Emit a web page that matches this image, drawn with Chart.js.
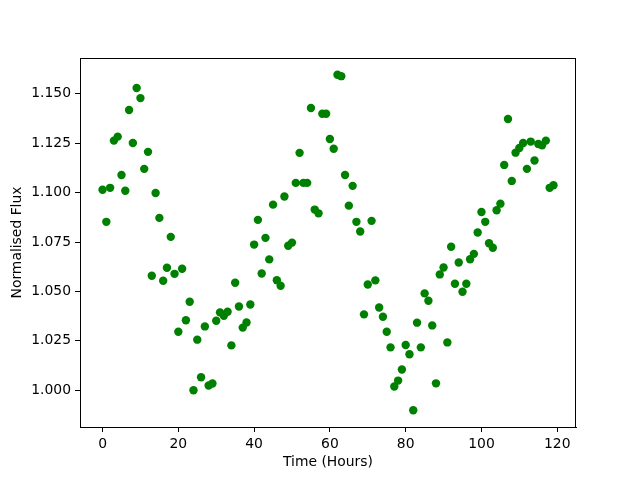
<!DOCTYPE html>
<html>
<head>
<meta charset="utf-8">
<script src="https://cdn.jsdelivr.net/npm/chart.js@4/dist/chart.umd.min.js"></script>
<style>
  body { margin: 0; background: #fff; }
  #myChart { display: block; }
</style>
</head>
<body>
<canvas id="myChart" width="640" height="480"></canvas>
<script>
// Light curve values
const hours = [
  0, 1, 2, 3, 4, 5, 6, 7, 8, 9, 10, 11, 12, 13, 14, 15, 16, 17, 18, 19,
  20, 21, 22, 23, 24, 25, 26, 27, 28, 29, 30, 31, 32, 33, 34, 35, 36, 37, 38, 39,
  40, 41, 42, 43, 44, 45, 46, 47, 48, 49, 50, 51, 52, 53, 54, 55, 56, 57, 58, 59,
  60, 61, 62, 63, 64, 65, 66, 67, 68, 69, 70, 71, 72, 73, 74, 75, 76, 77, 78, 79,
  80, 81, 82, 83, 84, 85, 86, 87, 88, 89, 90, 91, 92, 93, 94, 95, 96, 97, 98, 99,
  100, 101, 102, 103, 104, 105, 106, 107, 108, 109, 110, 111, 112, 113, 114, 115, 116, 117, 118, 119
];
const flux = [
  1.1014, 1.0852, 1.1024, 1.1263, 1.1283, 1.1089, 1.1009, 1.1418, 1.1251, 1.1529,
  1.1478, 1.1120, 1.1206, 1.0579, 1.0998, 1.0872, 1.0554, 1.0620, 1.0776, 1.0589,
  1.0296, 1.0615, 1.0354, 1.0448, 1.0000, 1.0256, 1.0066, 1.0323, 1.0024, 1.0034,
  1.0352, 1.0394, 1.0377, 1.0397, 1.0227, 1.0544, 1.0424, 1.0317, 1.0343, 1.0434,
  1.0737, 1.0862, 1.0591, 1.0771, 1.0662, 1.0939, 1.0557, 1.0529, 1.0980, 1.0731,
  1.0747, 1.1049, 1.1201, 1.1049, 1.1049, 1.1428, 1.0914, 1.0895, 1.1399, 1.1399,
  1.1271, 1.1222, 1.1596, 1.1589, 1.1089, 1.0934, 1.1034, 1.0852, 1.0803, 1.0384,
  1.0535, 1.0857, 1.0556, 1.0419, 1.0372, 1.0296, 1.0217, 1.0019, 1.0049, 1.0105,
  1.0229, 1.0182, 0.9899, 1.0342, 1.0217, 1.0490, 1.0453, 1.0328, 1.0035, 1.0586,
  1.0621, 1.0242, 1.0726, 1.0539, 1.0646, 1.0498, 1.0539, 1.0663, 1.0690, 1.0798,
  1.0902, 1.0852, 1.0744, 1.0721, 1.0911, 1.0944, 1.1140, 1.1372, 1.1059, 1.1202,
  1.1226, 1.1251, 1.1120, 1.1258, 1.1162, 1.1246, 1.1239, 1.1263, 1.1024, 1.1037
];
const xTicks = [0, 20, 40, 60, 80, 100, 120];
const yTicks = [1.000, 1.025, 1.050, 1.075, 1.100, 1.125, 1.150];

// matplotlib style 5% margins around the data
function paddedRange(values) {
  const lo = Math.min(...values);
  const hi = Math.max(...values);
  const pad = (hi - lo) * 0.05;
  return [lo - pad, hi + pad];
}
const [xMin, xMax] = paddedRange(hours);
const [yMin, yMax] = paddedRange(flux);

const points = hours.map((h, i) => ({ x: h, y: flux[i] }));

Chart.defaults.color = '#000';
Chart.defaults.font.family = '"DejaVu Sans", sans-serif';

// draws the full box around the plot area, like matplotlib spines
const frame = {
  id: 'frame',
  afterDraw(chart) {
    const { ctx, chartArea: a } = chart;
    ctx.save();
    ctx.strokeStyle = '#000';
    ctx.lineWidth = 1;
    ctx.strokeRect(a.left + 0.5, a.top + 0.5, a.right - a.left - 1, a.bottom - a.top);
    ctx.restore();
  }
};

const tickFont = { size: 13.9 };
const titleFont = { size: 13.9 };

new Chart(document.getElementById('myChart').getContext('2d'), {
  type: 'scatter',
  data: {
    datasets: [
      {
        data: points,
        backgroundColor: '#008000',
        borderColor: '#008000',
        pointRadius: 4.2,
        pointBorderWidth: 0,
        pointHoverRadius: 4.2,
      },
    ],
  },
  options: {
    responsive: false,
    animation: false,
    devicePixelRatio: 1,
    layout: {
      padding: { left: 0, right: 64, top: 58, bottom: 0 },
    },
    plugins: {
      legend: { display: false },
      tooltip: { enabled: false },
    },
    scales: {
      x: {
        type: 'linear',
        min: xMin,
        max: xMax,
        afterBuildTicks: (axis) => { axis.ticks = xTicks.map(v => ({ value: v })); },
        afterFit: (axis) => { axis.height = 53; },
        grid: {
          drawOnChartArea: false,
          drawTicks: true,
          tickLength: 5,
          tickColor: '#000',
        },
        border: { display: true, color: '#000', width: 1 },
        ticks: { font: tickFont, padding: 4, maxRotation: 0 },
        title: {
          display: true,
          text: 'Time (Hours)',
          font: titleFont,
          padding: { top: 0, bottom: 9 },
        },
      },
      y: {
        type: 'linear',
        min: yMin,
        max: yMax,
        afterBuildTicks: (axis) => { axis.ticks = yTicks.map(v => ({ value: v })); },
        afterFit: (axis) => { axis.width = 80; },
        grid: {
          drawOnChartArea: false,
          drawTicks: true,
          tickLength: 5,
          tickColor: '#000',
        },
        border: { display: true, color: '#000', width: 1 },
        ticks: {
          font: tickFont,
          padding: 4,
          callback: (value) => value.toFixed(3),
        },
        title: {
          display: true,
          text: 'Normalised Flux',
          font: titleFont,
          padding: { top: 9, bottom: 0 },
        },
      },
    },
  },
  plugins: [frame],
});
</script>
</body>
</html>
